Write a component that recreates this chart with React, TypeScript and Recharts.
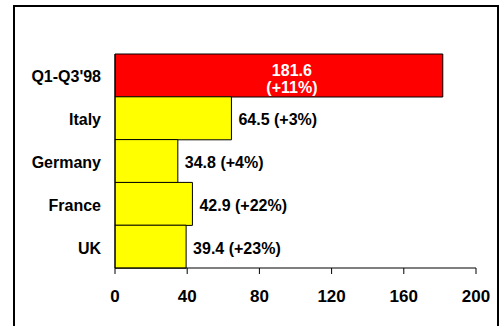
import { Bar, BarChart, Cell, LabelList, XAxis, YAxis } from "recharts";

const REGIONS = ["Q1-Q3'98", "Italy", "Germany", "France", "UK"];
const VOLUMES = [181.6, 64.5, 34.8, 42.9, 39.4];
const GROWTH = ["+11%", "+3%", "+4%", "+22%", "+23%"];
const X_TICKS = [0, 40, 80, 120, 160, 200];

const FONT = "'Liberation Sans', Arial, sans-serif";
const TOTAL_FILL = "#FF0000";
const COUNTRY_FILL = "#FFFF00";

const data = REGIONS.map((name, i) => ({
  name,
  value: VOLUMES[i],
  growth: GROWTH[i],
}));

function CategoryTick(props: any) {
  const { x, y, payload } = props;
  return (
    <text
      x={x}
      y={y}
      dy={7}
      textAnchor="end"
      fontFamily={FONT}
      fontSize={16}
      fontWeight="bold"
      fill="#000"
    >
      {payload.value}
    </text>
  );
}

function ValueLabel(props: any) {
  const { x, y, width, height, index } = props;
  const row = data[index];
  const cy = y + height / 2;
  if (index === 0) {
    // total bar: two white lines inside the bar
    const cx = x + width / 2 + 13;
    return (
      <text
        x={cx}
        y={cy}
        textAnchor="middle"
        fontFamily={FONT}
        fontSize={16}
        fontWeight="bold"
        fill="#fff"
      >
        <tspan x={cx} dy={0}>{row.value.toFixed(1)}</tspan>
        <tspan x={cx} dy={17}>({row.growth})</tspan>
      </text>
    );
  }
  return (
    <text
      x={x + width + 7}
      y={cy + 7}
      fontFamily={FONT}
      fontSize={16}
      fontWeight="bold"
      fill="#000"
    >
      {`${row.value.toFixed(1)} (${row.growth})`}
    </text>
  );
}

export default function App() {
  return (
    <div
      style={{
        position: "absolute",
        left: 0,
        top: 0,
        width: 502,
        height: 326,
        overflow: "hidden",
        background: "#fff",
      }}
    >
      <div
        style={{
          position: "absolute",
          left: 13,
          top: 5,
          width: 482,
          height: 340,
          border: "2px solid #000",
        }}
      />
      <BarChart
        width={502}
        height={326}
        data={data}
        layout="vertical"
        barCategoryGap={0}
        margin={{ top: 54, right: 26, bottom: 0, left: 0 }}
        style={{ position: "absolute", left: 0, top: 0 }}
      >
        <XAxis
          type="number"
          domain={[0, 200]}
          ticks={X_TICKS}
          interval={0}
          height={58}
          tickSize={6}
          tickMargin={16}
          axisLine={{ stroke: "#000" }}
          tickLine={{ stroke: "#000" }}
          tick={{ fill: "#000", fontSize: 17, fontWeight: "bold", fontFamily: FONT }}
        />
        <YAxis
          type="category"
          dataKey="name"
          width={115}
          tickLine={false}
          tickMargin={8}
          axisLine={{ stroke: "#000" }}
          tick={<CategoryTick />}
        />
        <Bar dataKey="value" stroke="#000" strokeWidth={1} isAnimationActive={false}>
          {data.map((_, i) => (
            <Cell key={i} fill={i === 0 ? TOTAL_FILL : COUNTRY_FILL} />
          ))}
          <LabelList dataKey="value" content={<ValueLabel />} />
        </Bar>
      </BarChart>
    </div>
  );
}
